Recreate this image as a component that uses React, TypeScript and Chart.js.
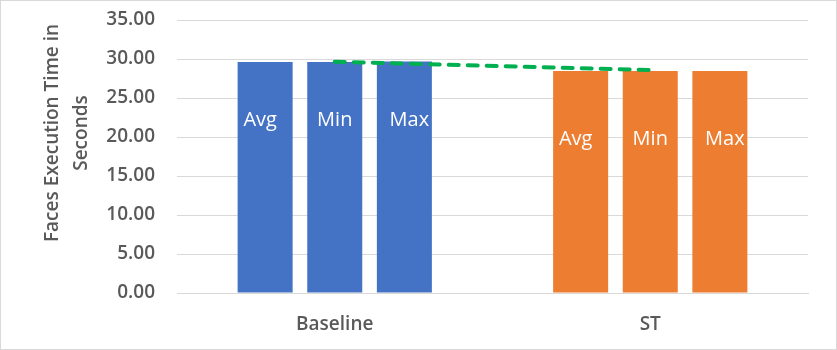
import { useEffect, useRef } from "react";
import { Chart, registerables } from "chart.js";

Chart.register(...registerables);

const categories = ["Baseline", "ST"];
const seriesLabels = ["Avg", "Min", "Max"];
const avgValues = [29.62, 28.45];
const minValues = [29.62, 28.45];
const maxValues = [29.68, 28.45];
const trendValues = [29.66, 28.58];
const yTickStep = 5;
const yMax = 35;
const yTitleLines = ["Faces Execution Time in", "Seconds"];

const categoryColors = ["#4472C4", "#ED7D31"];
const FONT = "'Open Sans', 'Liberation Sans', sans-serif";
const TEXT_COLOR = "#595959";
const GRID_COLOR = "#d9d9d9";

const barLabelPlugin = {
  id: "barLabels",
  afterDatasetsDraw(chart: any) {
    const ctx = chart.ctx;
    const fracs = [0.255, 0.31];
    const xOff = [-5, 0, 5];
    ctx.save();
    ctx.fillStyle = "#ffffff";
    ctx.font = `20px ${FONT}`;
    ctx.textAlign = "center";
    ctx.textBaseline = "middle";
    for (let i = 0; i < 3; i++) {
      const meta = chart.getDatasetMeta(i);
      meta.data.forEach((el: any, j: number) => {
        const y = el.y + (el.base - el.y) * fracs[j];
        ctx.fillText(seriesLabels[i], el.x + xOff[i], y);
      });
    }
    ctx.restore();
  },
};

const yTitlePlugin = {
  id: "yTitle",
  afterDraw(chart: any) {
    const ctx = chart.ctx;
    ctx.save();
    ctx.fillStyle = TEXT_COLOR;
    ctx.font = `600 19px ${FONT}`;
    ctx.textAlign = "center";
    ctx.textBaseline = "middle";
    const cy = 132;
    const xs = [52, 81];
    yTitleLines.forEach((line, k) => {
      ctx.save();
      ctx.translate(xs[k], cy);
      ctx.rotate(-Math.PI / 2);
      ctx.fillText(line, 0, 0);
      ctx.restore();
    });
    ctx.restore();
  },
};

export default function App() {
  const ref = useRef<HTMLCanvasElement | null>(null);

  useEffect(() => {
    document.body.style.margin = "0";
    if (!ref.current) return;
    const barDs = (label: string, data: number[]) => ({
      type: "bar" as const,
      label,
      data,
      backgroundColor: categoryColors,
      borderWidth: 0,
      categoryPercentage: 0.662,
      barPercentage: 0.79,
      order: 2,
    });
    const chart = new Chart(ref.current, {
      type: "bar",
      data: {
        labels: categories,
        datasets: [
          barDs("Avg", avgValues),
          barDs("Min", minValues),
          barDs("Max", maxValues),
          {
            type: "line" as const,
            label: "Trend",
            data: trendValues,
            borderColor: "#00B050",
            borderWidth: 4,
            borderDash: [10, 9],
            borderCapStyle: "round",
            pointRadius: 0,
            fill: false,
            order: 1,
          } as any,
        ],
      },
      options: {
        responsive: false,
        animation: false,
        layout: { padding: { top: 19, right: 28, left: 0, bottom: 0 } },
        plugins: {
          legend: { display: false },
          tooltip: { enabled: false },
        },
        scales: {
          x: {
            grid: { display: false, drawTicks: false },
            border: { display: true, color: GRID_COLOR, width: 1 },
            ticks: {
              color: TEXT_COLOR,
              font: { family: FONT, size: 19, weight: 600 as any },
              padding: 20,
            },
            afterFit: (s: any) => {
              s.height = 56;
              s.paddingLeft = 0;
              s.paddingRight = 0;
            },
          },
          y: {
            min: 0,
            max: yMax,
            grid: { color: GRID_COLOR, drawTicks: false, lineWidth: 1 },
            border: { display: false },
            ticks: {
              stepSize: yTickStep,
              color: TEXT_COLOR,
              font: { family: FONT, size: 19, weight: 600 as any },
              padding: 22,
              callback: (v: any) => Number(v).toFixed(2),
            },
            afterFit: (s: any) => {
              s.width = 176;
              s.paddingTop = 0;
              s.paddingBottom = 0;
            },
          },
        },
      },
      plugins: [barLabelPlugin, yTitlePlugin],
    });
    return () => chart.destroy();
  }, []);

  return (
    <div
      style={{
        width: 837,
        height: 350,
        boxSizing: "border-box",
        border: "1px solid #d9d9d9",
        background: "#ffffff",
      }}
    >
      <canvas ref={ref} width={835} height={348} style={{ display: "block" }} />
    </div>
  );
}
